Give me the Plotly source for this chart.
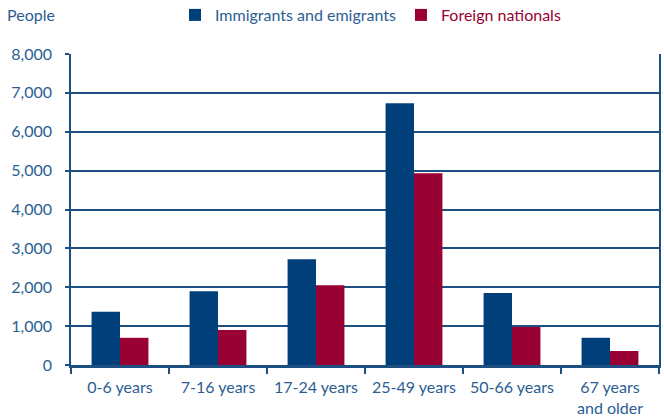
import plotly.graph_objects as go

categories = ["0-6 years", "7-16 years", "17-24 years", "25-49 years", "50-66 years", "67 years<br>and older"]
immigrants = [1370, 1900, 2720, 6730, 1850, 700]
foreign = [700, 900, 2050, 4930, 980, 360]
y_ticks = [0, 1000, 2000, 3000, 4000, 5000, 6000, 7000, 8000]
y_labels = ["0", "1,000", "2,000", "3,000", "4,000", "5,000", "6,000", "7,000", "8,000"]

BLUE = "#003f7a"
RED = "#990033"
TEXT = "#2a5e92"
LINE = "#1d4f80"
FONT = "Lato"
FS = 16

fig = go.Figure()
fig.add_trace(go.Bar(x=categories, y=immigrants, name="Immigrants and emigrants",
                     marker=dict(color=BLUE, line=dict(width=0))))
fig.add_trace(go.Bar(x=categories, y=foreign,
                     name="<span style='color:%s'>Foreign nationals</span>" % RED,
                     marker=dict(color=RED, line=dict(width=0))))

fig.update_layout(
    width=664, height=420,
    margin=dict(l=71, r=5, t=54, b=55, autoexpand=False),
    paper_bgcolor="white", plot_bgcolor="white",
    barmode="group", bargap=0.42, bargroupgap=0,
    font=dict(family=FONT, size=FS, color=TEXT),
    showlegend=True,
    legend=dict(orientation="h", x=(175 - 71) / 588, xanchor="left",
                y=(365 - 15) / 311, yanchor="middle",
                font=dict(family=FONT, size=FS, color=TEXT),
                itemwidth=30, bgcolor="rgba(0,0,0,0)"),
)
fig.add_annotation(text="People", xref="paper", yref="paper", x=(5 - 71) / 588, y=(365 - 15) / 311,
                   xanchor="left", yanchor="middle", showarrow=False,
                   font=dict(family=FONT, size=FS, color=TEXT))

fig.update_yaxes(range=[0, 8000], tickvals=y_ticks, ticktext=y_labels,
                 showgrid=True, gridcolor=LINE, gridwidth=1.5,
                 showline=True, linecolor=LINE, linewidth=1.5, mirror=True,
                 ticks="outside", ticklen=4, tickcolor=LINE, tickwidth=1.5,
                 ticklabelstandoff=10,
                 zeroline=False, fixedrange=True, automargin=False)
fig.update_xaxes(showline=True, linecolor=LINE, linewidth=2.5,
                 ticks="outside", tickson="boundaries", ticklen=6, tickcolor=LINE, tickwidth=1.5,
                 ticklabelstandoff=6,
                 showgrid=False, fixedrange=True, automargin=False)

fig.write_html("out.html", config={"displayModeBar": False},
               post_script="document.body.style.margin='0';")
